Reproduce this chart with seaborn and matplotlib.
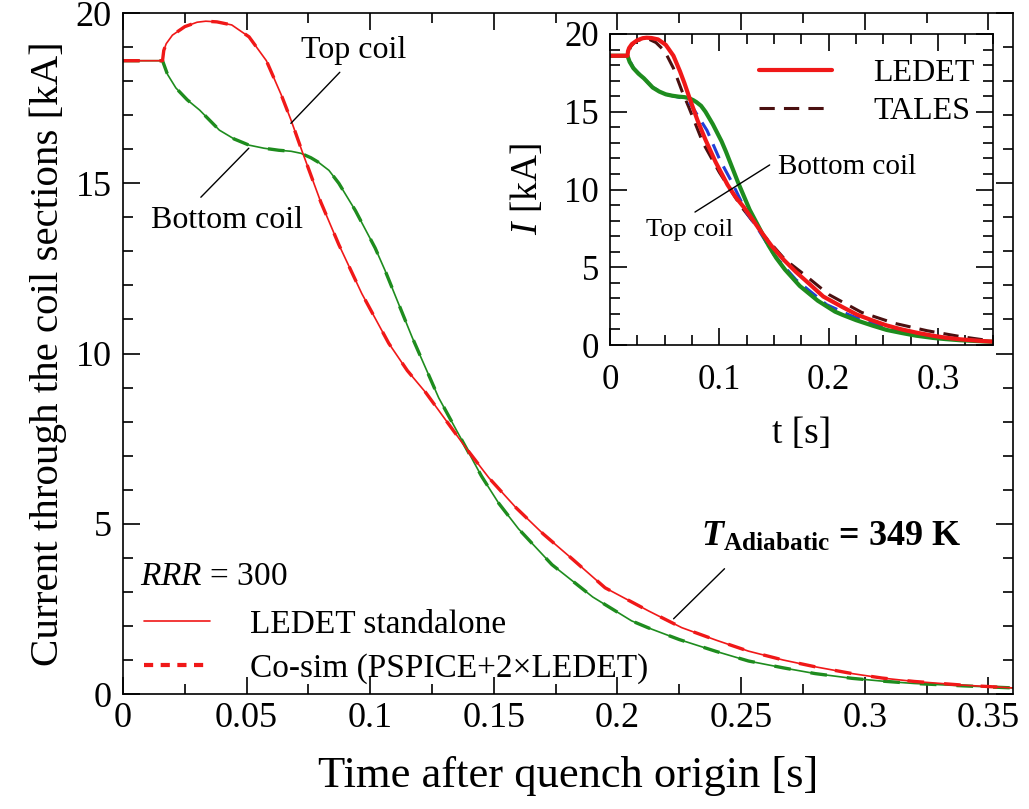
import numpy as np
import pandas as pd
import matplotlib
matplotlib.use("Agg")
import matplotlib.pyplot as plt
import seaborn as sns
from matplotlib.ticker import MultipleLocator
from matplotlib.lines import Line2D

# ---------------- data ----------------
# Main plot: LEDET standalone, top coil (red)
t_top = [0.0, 0.016, 0.0165, 0.0175, 0.020, 0.025, 0.030, 0.0335, 0.038, 0.044,
         0.051, 0.058, 0.064, 0.068, 0.0724, 0.080, 0.0873,
         0.0966, 0.1075, 0.115, 0.1225, 0.130, 0.139, 0.148, 0.159, 0.170,
         0.182, 0.195, 0.2126, 0.226, 0.240, 0.253, 0.267, 0.280, 0.295,
         0.307, 0.320, 0.340, 0.360]
i_top = [18.6, 18.6, 18.9, 19.1, 19.35, 19.6, 19.73, 19.76, 19.74, 19.65,
         19.3, 18.6, 17.6, 16.85, 15.95, 14.45, 13.2,
         11.76, 10.3, 9.5, 8.85, 8.1, 7.2, 6.35, 5.47, 4.7,
         3.95, 3.12, 2.44, 1.95, 1.58, 1.26, 1.0, 0.8, 0.6,
         0.47, 0.37, 0.26, 0.18]
# Main plot: LEDET standalone, bottom coil (green)
t_bot = [0.0, 0.016, 0.018, 0.0214, 0.026, 0.031, 0.039, 0.045, 0.051, 0.057,
         0.063, 0.068, 0.072, 0.076, 0.079, 0.0833, 0.0873, 0.094, 0.102,
         0.106, 0.117, 0.1277, 0.139, 0.145, 0.152, 0.160, 0.1735, 0.190,
         0.2057, 0.2126, 0.225, 0.240, 0.253, 0.267, 0.280, 0.295, 0.307,
         0.320, 0.340, 0.360]
i_bot = [18.6, 18.6, 18.2, 17.8, 17.45, 17.15, 16.56, 16.3, 16.12, 16.03,
         15.97, 15.94, 15.88, 15.75, 15.62, 15.38, 15.0, 14.2, 13.1,
         12.44, 10.47, 8.7, 7.2, 6.4, 5.6, 4.85, 3.8, 2.85,
         2.15, 1.94, 1.6, 1.25, 0.97, 0.77, 0.6, 0.46, 0.38,
         0.31, 0.24, 0.18]
# Co-simulation (PSPICE + 2xLEDET): overlaps the standalone curves
t_cosim_top, i_cosim_top = t_top, i_top
t_cosim_bot, i_cosim_bot = t_bot, i_bot

# Inset: TALES, top coil (dark dashed) and bottom coil (blue dashed)
t_tales_top = [0.0, 0.016, 0.019, 0.023, 0.03, 0.036, 0.042, 0.05, 0.058, 0.066,
               0.072, 0.085, 0.1, 0.12, 0.14, 0.16, 0.18, 0.2, 0.23, 0.26,
               0.29, 0.32, 0.35]
i_tales_top = [18.6, 18.6, 19.2, 19.5, 19.7, 19.65, 19.45, 18.9, 17.8, 16.3,
               15.3, 13.0, 11.1, 8.9, 7.1, 5.5, 4.4, 3.25, 2.1, 1.4,
               0.92, 0.55, 0.25]
t_tales_bot = [0.0, 0.016, 0.0214, 0.031, 0.039, 0.051, 0.065, 0.073, 0.0887,
               0.1005, 0.112, 0.125, 0.135, 0.15, 0.17, 0.198, 0.22, 0.25,
               0.28, 0.31, 0.35]
i_tales_bot = [18.6, 18.6, 17.8, 17.15, 16.56, 16.12, 15.9, 15.56, 13.8,
               11.9, 10.4, 8.5, 7.5, 5.8, 4.2, 2.6, 1.9, 1.15,
               0.75, 0.45, 0.2]

main_xticks = [0, 0.05, 0.1, 0.15, 0.2, 0.25, 0.3, 0.35]
main_xticklabels = ["0", "0.05", "0.1", "0.15", "0.2", "0.25", "0.3", "0.35"]
yticks = [0, 5, 10, 15, 20]
inset_xticks = [0, 0.1, 0.2, 0.3]
inset_xticklabels = ["0", "0.1", "0.2", "0.3"]

RED = "#f01818"
GREEN = "#1e8c1e"
DARK = "#4a1010"
BLUE = "#2040d8"

# ---------------- style ----------------
sns.set_theme(style="ticks")
plt.rcParams['font.family'] = ['Liberation Serif', 'DejaVu Serif']
plt.rcParams['mathtext.fontset'] = 'custom'
plt.rcParams['mathtext.rm'] = 'Liberation Serif'
plt.rcParams['mathtext.it'] = 'Liberation Serif:italic'
plt.rcParams['mathtext.bf'] = 'Liberation Serif:bold'
plt.rcParams['mathtext.bfit'] = 'Liberation Serif:italic:bold'
plt.rcParams['axes.edgecolor'] = 'black'
plt.rcParams['axes.labelcolor'] = 'black'
plt.rcParams['text.color'] = 'black'
plt.rcParams['axes.linewidth'] = 1.2
plt.rcParams['xtick.color'] = 'black'
plt.rcParams['ytick.color'] = 'black'

fig = plt.figure(figsize=(10.29, 8.09), dpi=100)
fig.patch.set_facecolor('white')

# ---------------- main axes ----------------
ax = fig.add_axes([0.1195, 0.1421, 0.865, 0.8418])
ax.set_facecolor('white')

sns.lineplot(x=t_bot, y=i_bot, ax=ax, color=GREEN, linewidth=1.2, sort=False, estimator=None)
sns.lineplot(x=t_cosim_bot, y=i_cosim_bot, ax=ax, color=GREEN, linewidth=2.4,
             linestyle=(0, (5, 6)), sort=False, estimator=None)
sns.lineplot(x=t_top, y=i_top, ax=ax, color=RED, linewidth=1.2, sort=False, estimator=None)
sns.lineplot(x=t_cosim_top, y=i_cosim_top, ax=ax, color=RED, linewidth=2.4,
             linestyle=(0, (5, 6)), sort=False, estimator=None)

ax.set_xlim(0, 0.36)
ax.set_ylim(0, 20)
ax.set_xticks(main_xticks)
ax.set_xticklabels(main_xticklabels)
ax.set_yticks(yticks)
ax.xaxis.set_minor_locator(MultipleLocator(0.025))
ax.yaxis.set_minor_locator(MultipleLocator(1))
ax.tick_params(which='both', direction='in', top=True, right=True, width=1.2,
               labelsize=26, labelcolor='black')
ax.tick_params(axis='x', which='both', pad=6)
ax.tick_params(axis='y', which='both', pad=8)
ax.tick_params(which='major', length=12)
ax.tick_params(which='minor', length=7)
for s in ax.spines.values():
    s.set_visible(True)
    s.set_color('black')

ax.set_xlabel("Time after quench origin [s]", fontsize=32, labelpad=15)
ax.set_ylabel("Current through the coil sections [kA]", fontsize=29.5, labelpad=6)

# annotations (leader lines + texts)
def leader(a, p0, p1):
    a.annotate("", xy=p1, xytext=p0,
               arrowprops=dict(arrowstyle='-', color='black', lw=1.0,
                               shrinkA=0, shrinkB=0))

ax.text(0.0934, 18.91, "Top coil", fontsize=23, ha='center', va='center')
leader(ax, (0.0877, 18.26), (0.0679, 16.76))
ax.text(0.042, 13.91, "Bottom coil", fontsize=23, ha='center', va='center')
leader(ax, (0.0315, 14.59), (0.0509, 16.03))
ax.text(0.2336, 4.59, r"$\mathbfit{T}_{\mathbf{Adiabatic}}$ = 349 K", fontsize=26,
        fontweight='bold', ha='left', va='center')
leader(ax, (0.2433, 3.68), (0.2227, 2.21))
ax.text(0.0069, 3.44, r"$RRR$ = 300", fontsize=24, ha='left', va='center')

handles = [Line2D([], [], color=RED, lw=1.2),
           Line2D([], [], color=RED, lw=3.0, linestyle=(0, (2.2, 1.8)))]
leg = ax.legend(handles, ["LEDET standalone", "Co-sim (PSPICE+2\u00d7LEDET)"],
                loc='lower left', bbox_to_anchor=(0.012, 0.0), frameon=False,
                fontsize=24, handlelength=2.0, handletextpad=1.2,
                labelspacing=0.4, borderpad=0.3, borderaxespad=0.0)

# ---------------- inset ----------------
ins = fig.add_axes([0.5928, 0.5735, 0.372, 0.3845])
ins.set_facecolor('white')
ins.set_zorder(5)

sns.lineplot(x=t_tales_top, y=i_tales_top, ax=ins, color=DARK, linewidth=2.2,
             linestyle=(0, (5, 3)), sort=False, estimator=None)
sns.lineplot(x=t_tales_bot, y=i_tales_bot, ax=ins, color=BLUE, linewidth=2.2,
             linestyle=(0, (5, 3)), sort=False, estimator=None)
sns.lineplot(x=t_bot, y=i_bot, ax=ins, color=GREEN, linewidth=3.0, sort=False, estimator=None)
sns.lineplot(x=t_top, y=i_top, ax=ins, color=RED, linewidth=3.0, sort=False, estimator=None)

ins.set_xlim(0, 0.35)
ins.set_ylim(0, 20)
ins.set_xticks(inset_xticks)
ins.set_xticklabels(inset_xticklabels)
ins.set_yticks(yticks)
ins.xaxis.set_minor_locator(MultipleLocator(0.025))
ins.yaxis.set_minor_locator(MultipleLocator(1))
ins.tick_params(which='both', direction='in', top=True, right=True, width=1.2,
                labelsize=25, labelcolor='black')
ins.tick_params(axis='x', which='both', pad=14)
ins.tick_params(axis='y', which='both', pad=8)
ins.tick_params(which='major', length=12)
ins.tick_params(which='minor', length=7)
for s in ins.spines.values():
    s.set_visible(True)
    s.set_color('black')
ins.set_xlabel("t [s]", fontsize=27, labelpad=14)
ins.set_ylabel(r"$I$ [kA]", fontsize=27, labelpad=14)

ins.text(0.1536, 11.45, "Bottom coil", fontsize=21, ha='left', va='center')
leader(ins, (0.146, 11.58), (0.0777, 8.55))
ins.text(0.073, 7.4, "Top coil", fontsize=19, ha='center', va='center')

ihandles = [Line2D([], [], color=RED, lw=3.0),
            Line2D([], [], color=DARK, lw=2.2, linestyle=(0, (5, 3)))]
ins.legend(ihandles, ["LEDET", "TALES"], loc='upper right',
           bbox_to_anchor=(0.97, 0.94), frameon=False, fontsize=23,
           handlelength=2.3, handletextpad=1.3, labelspacing=0.25,
           borderpad=0.2, borderaxespad=0.0)

fig.savefig("out.png", dpi=100, facecolor='white')
